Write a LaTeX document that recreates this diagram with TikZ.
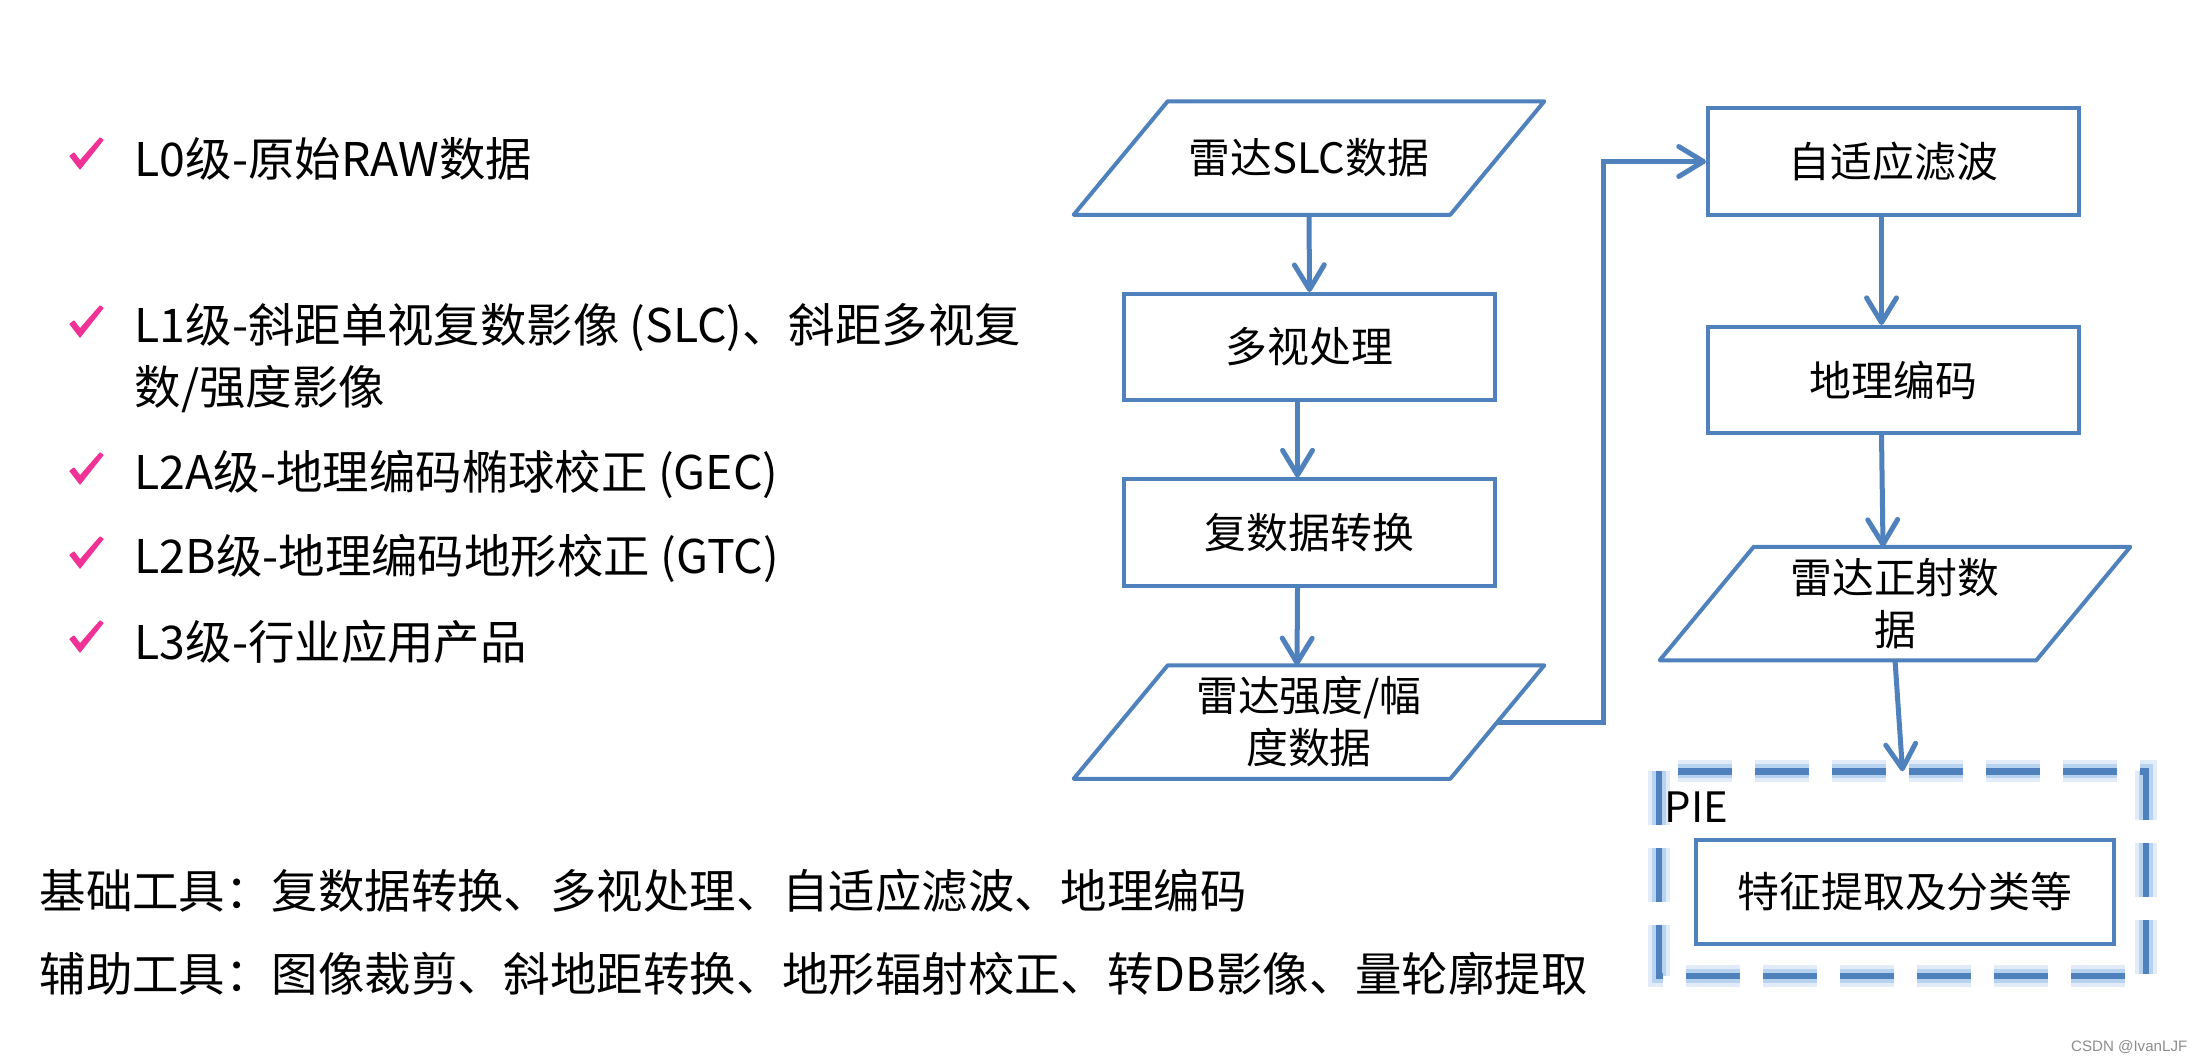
\documentclass[tikz,border=0pt]{standalone}
\usepackage{fontspec}
\setmainfont{Noto Sans CJK SC}
\newfontfamily\libsans{Liberation Sans}
\usetikzlibrary{arrows.meta,calc}
\definecolor{obl}{RGB}{79,129,189}
\definecolor{glowc}{RGB}{157,195,235}
\definecolor{ckpink}{RGB}{240,50,150}
\newcommand\mypara[1]{%
  \draw[shp] ($(#1.north west)+(47,0)$) -- ($(#1.north east)+(47,0)$) -- ($(#1.south east)+(-47,0)$) -- ($(#1.south west)+(-47,0)$) -- cycle;}
\begin{document}
\begin{tikzpicture}[x=0.01cm,y=-0.01cm,
  shp/.style={draw=obl,line width=0.04cm,line join=round},
  box/.style={draw=obl,line width=0.04cm,minimum width=3.71cm,minimum height=1.06cm,inner sep=0pt,font=\fontsize{11.9pt}{14.8pt}\selectfont,align=center},
  para/.style={minimum width=3.75cm,minimum height=1.12cm,inner sep=0pt,font=\fontsize{11.9pt}{14.8pt}\selectfont,align=center},
  arr/.style={draw=obl,line width=0.05cm,-{Straight Barb[round,length=7pt,width=8.5pt]}},
  lst/.style={anchor=west,inner sep=0pt,font=\fontsize{13.2pt}{17.6pt}\selectfont,align=left},
  ckm/.style={fill=ckpink,draw=ckpink,line width=0.012cm,line join=round},
  dsh/.style={dash pattern=on 0.54cm off 0.23cm}]
\useasboundingbox[fill=white] (0,0) rectangle (2204,1062);

% check marks
\foreach \yy in {168,336,483,567,651}{
  \filldraw[ckm] (70,{\yy-12}) -- (74,{\yy-15}) -- (80,{\yy-7}) -- (100,{\yy-30}) -- (103,{\yy-28}) -- (80,{\yy+1}) -- cycle;
}

% left list
\node[lst] (t1) at (134,159) {L0级-原始RAW数据};
\node[lst] (t2) at (134,358) {L1级-斜距单视复数影像 (SLC)、斜距多视复\\数/强度影像};
\node[lst] (t3) at (134,474) {L2A级-地理编码椭球校正 (GEC)};
\node[lst] (t4) at (134,558) {L2B级-地理编码地形校正 (GTC)};
\node[lst] (t5) at (134,642) {L3级-行业应用产品};

% bottom tools
\node[lst] (bt1) at (39,891) {基础工具：复数据转换、多视处理、自适应滤波、地理编码};
\node[lst] (bt2) at (39,974) {辅助工具：图像裁剪、斜地距转换、地形辐射校正、转DB影像、量轮廓提取};

% flowchart nodes
\node[para] (p1) at (1309,158) {雷达SLC数据};
\mypara{p1}
\node[box] (m1) at (1309.5,347) {多视处理};
\node[box] (m2) at (1309.5,532.5) {复数据转换};
\node[para] (p2) at (1309,722) {雷达强度/幅\\度数据};
\mypara{p2}
\node[box] (m3) at (1893.5,161.5) {自适应滤波};
\node[box] (m4) at (1893.5,380) {地理编码};
\node[para] (p3) at (1895,603.5) {雷达正射数\\据};
\mypara{p3}

% PIE group
\node[minimum width=4.85cm,minimum height=2.03cm,inner sep=0pt] (pie) at (1902.5,873.5) {};
\draw[glowc,opacity=0.3,line width=0.22cm,dsh] (pie.north west) rectangle (pie.south east);
\draw[glowc,opacity=0.6,line width=0.14cm,dsh] (pie.north west) rectangle (pie.south east);
\draw[obl,line width=0.065cm,dsh] (pie.north west) rectangle (pie.south east);
\node[box,minimum width=4.18cm,minimum height=1.04cm] (m5) at (1905,892) {特征提取及分类等};
\node[anchor=west,inner sep=0pt,font=\fontsize{11.9pt}{14.8pt}\selectfont] (pl) at (1664,807) {PIE};

% connectors
\draw[arr] (p1.south) -- (m1.north);
\draw[arr] ([xshift=-0.12cm]m1.south) -- ([xshift=-0.12cm]m2.north);
\draw[arr] ([xshift=-0.12cm]m2.south) -- ([xshift=-0.12cm]p2.north);
\coordinate (bend) at (1603,722);
\draw[arr] (p2.east) -- (bend) |- (m3.west);
\draw[arr] ([xshift=-0.12cm]m3.south) -- ([xshift=-0.12cm]m4.north);
\draw[arr] ([xshift=-0.12cm]m4.south) -- ([xshift=-0.12cm]p3.north);
\draw[arr] (p3.south) -- (pie.north);

% watermark
\node[anchor=east,inner sep=0pt,text=black!45,font=\libsans\fontsize{4.3pt}{5pt}\selectfont] (wm) at (2188,1047) {CSDN @IvanLJF};
\end{tikzpicture}
\end{document}
